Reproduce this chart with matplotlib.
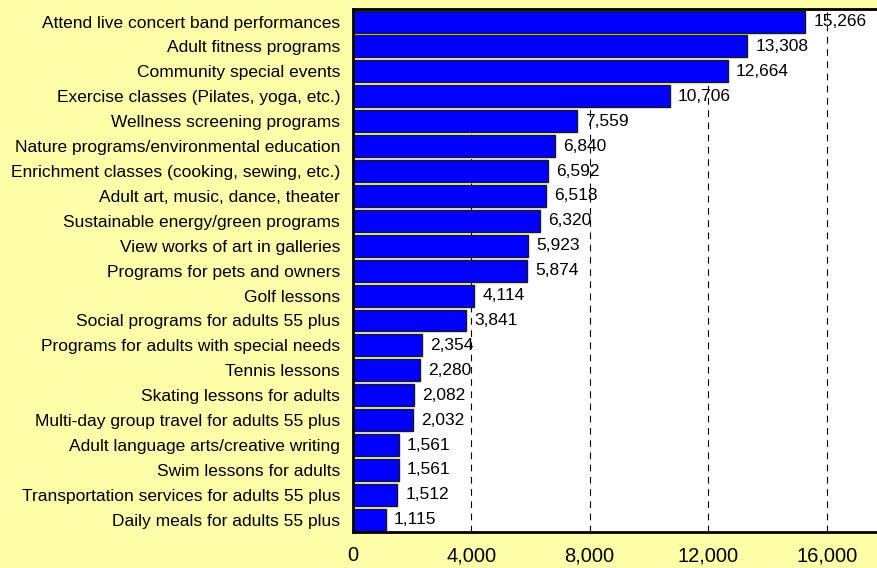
import matplotlib
matplotlib.use("Agg")
import matplotlib.pyplot as plt

categories = [
    "Attend live concert band performances",
    "Adult fitness programs",
    "Community special events",
    "Exercise classes (Pilates, yoga, etc.)",
    "Wellness screening programs",
    "Nature programs/environmental education",
    "Enrichment classes (cooking, sewing, etc.)",
    "Adult art, music, dance, theater",
    "Sustainable energy/green programs",
    "View works of art in galleries",
    "Programs for pets and owners",
    "Golf lessons",
    "Social programs for adults 55 plus",
    "Programs for adults with special needs",
    "Tennis lessons",
    "Skating lessons for adults",
    "Multi-day group travel for adults 55 plus",
    "Adult language arts/creative writing",
    "Swim lessons for adults",
    "Transportation services for adults 55 plus",
    "Daily meals for adults 55 plus",
]
values = [15266, 13308, 12664, 10706, 7559, 6840, 6592, 6518, 6320, 5923,
          5874, 4114, 3841, 2354, 2280, 2082, 2032, 1561, 1561, 1512, 1115]
xticks = [0, 4000, 8000, 12000, 16000]

plt.rcParams['font.family'] = ['Liberation Sans', 'DejaVu Sans']

bg = '#FFFFAA'
fig = plt.figure(figsize=(8.77, 5.68), dpi=100, facecolor=bg)
ax = fig.add_axes([0.402, 0.063, 0.598, 0.921])
ax.set_facecolor('white')

y = list(range(len(categories)))
bars = ax.barh(y, values, height=0.88, color='#0000FF', edgecolor='#1a1a1a',
               linewidth=1.0, zorder=2)
for b, v in zip(bars, values):
    ax.text(v + 280, b.get_y() + b.get_height() / 2, f"{v:,}",
            va='center', ha='left', fontsize=12.5, color='black', zorder=3)

ax.set_ylim(len(categories) - 0.5, -0.5)
ax.set_xlim(0, 17700)
ax.set_yticks(y)
ax.set_yticklabels(categories, fontsize=12.5)
ax.set_xticks(xticks)
ax.set_xticklabels([f"{t:,}" for t in xticks], fontsize=14.5)
ax.tick_params(axis='both', length=0)
ax.tick_params(axis='y', pad=9)
ax.tick_params(axis='x', pad=10)

ax.grid(axis='x', color='black', linestyle=(0, (6, 5)), linewidth=0.8, zorder=1)
ax.set_axisbelow(True)

for s in ['left', 'bottom', 'top']:
    ax.spines[s].set_linewidth(2)
    ax.spines[s].set_color('black')
ax.spines['right'].set_visible(False)

fig.savefig("out.png", dpi=100, facecolor=bg)
